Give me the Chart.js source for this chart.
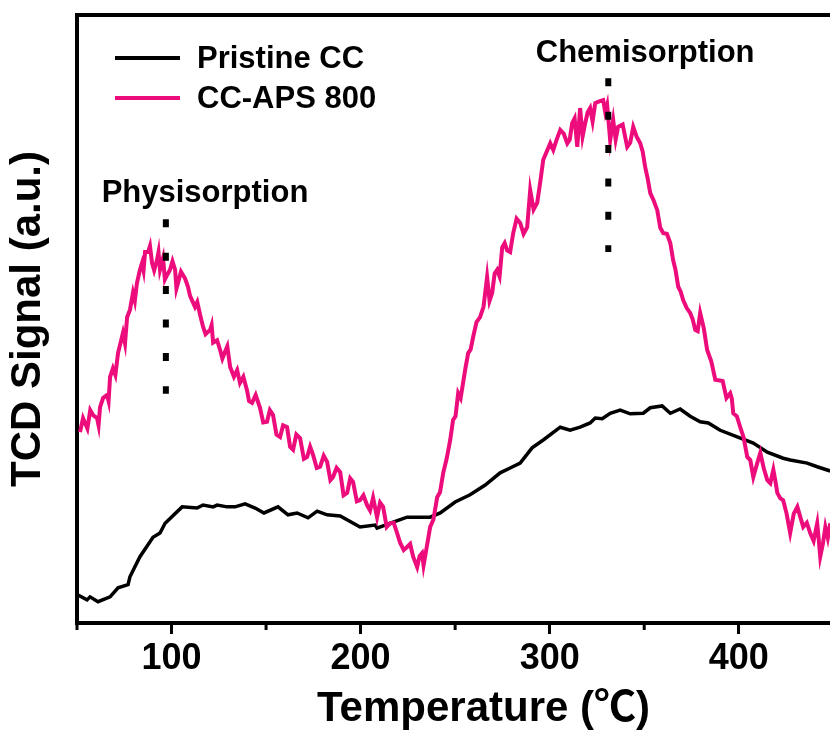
<!DOCTYPE html>
<html>
<head>
<meta charset="utf-8">
<script src="https://cdn.jsdelivr.net/npm/chart.js@4.4.1/dist/chart.umd.min.js"></script>
<style>
  html, body { margin: 0; padding: 0; background: #fff; overflow: hidden; }
  #wrap { width: 830px; height: 738px; overflow: hidden; position: relative; }
</style>
</head>
<body>
<div id="wrap"><canvas id="tpd" width="892" height="738"></canvas></div>
<script>
// TPD profiles, temperature in degC, signal in a.u.
const pristineT = [50.5, 55.3, 56.9, 61.1, 67.5, 71.7, 77.0, 78.0, 83.3, 90.2, 93.9, 96.6, 105.6, 113.5, 116.7, 122.0, 124.1, 129.4, 133.6, 138.9, 144.2, 148.9, 156.3, 161.6, 166.4, 172.2, 177.0, 182.3, 189.2, 199.7, 207.7, 208.7, 217.2, 224.6, 233.1, 236.8, 242.1, 250.0, 257.9, 265.9, 273.8, 279.1, 284.4, 290.7, 296.6, 305.6, 310.8, 316.1, 321.4, 324.1, 327.8, 332.0, 337.3, 342.6, 349.5, 353.2, 359.5, 363.8, 369.0, 374.3, 379.6, 383.9, 390.2, 399.2, 407.7, 415.1, 423.5, 427.2, 436.2, 441.5, 448.4];
const pristineS = [4.6, 3.8, 4.3, 3.5, 4.3, 5.8, 6.3, 7.6, 10.9, 14.1, 14.8, 16.4, 19.1, 18.9, 19.4, 19.1, 19.4, 19.1, 19.1, 19.6, 18.9, 18.1, 19.1, 17.8, 18.1, 17.3, 18.4, 17.8, 17.6, 15.8, 16.1, 15.6, 16.6, 17.4, 17.4, 17.4, 18.1, 19.9, 21.1, 22.7, 24.7, 25.5, 26.3, 28.8, 30.1, 32.2, 31.7, 32.2, 32.9, 33.7, 33.6, 34.5, 35.0, 34.4, 34.5, 35.4, 35.7, 34.5, 35.2, 34.0, 33.1, 32.9, 31.7, 30.6, 29.6, 28.1, 27.1, 26.8, 26.3, 25.7, 25.0];

const apsT = [51.6, 53.2, 55.5, 57.0, 58.5, 60.6, 61.4, 62.2, 63.8, 65.9, 66.7, 67.5, 69.0, 70.3, 71.7, 74.3, 75.4, 76.5, 78.0, 79.6, 80.6, 81.7, 83.3, 84.4, 85.2, 86.0, 87.6, 88.6, 89.7, 90.8, 92.3, 93.1, 93.9, 95.5, 96.5, 97.6, 99.2, 100.5, 101.9, 102.6, 103.4, 105.0, 107.1, 108.7, 109.8, 110.8, 112.4, 113.6, 115.1, 116.7, 118.0, 120.4, 121.2, 122.0, 124.1, 125.7, 126.9, 128.3, 129.5, 131.0, 133.0, 134.7, 136.2, 138.0, 139.9, 141.0, 142.6, 144.5, 146.8, 148.5, 150.5, 152.0, 153.7, 155.5, 157.4, 159.0, 161.1, 162.7, 164.3, 166.0, 168.0, 170.0, 171.7, 173.3, 174.9, 176.8, 178.6, 180.5, 182.3, 184.0, 185.4, 187.3, 189.2, 191.0, 192.9, 194.5, 196.0, 198.0, 199.7, 201.5, 203.4, 205.0, 206.6, 208.7, 210.3, 211.9, 213.8, 215.6, 217.5, 219.3, 220.9, 222.8, 224.6, 226.2, 227.8, 229.9, 231.2, 232.5, 233.3, 234.1, 236.8, 238.5, 240.5, 242.0, 243.7, 245.5, 247.4, 248.9, 250.2, 251.6, 252.9, 254.2, 255.5, 256.9, 258.2, 259.5, 261.3, 263.2, 265.0, 266.9, 268.2, 269.6, 270.9, 272.2, 273.5, 274.9, 276.2, 277.5, 279.1, 280.7, 282.5, 284.4, 286.2, 288.1, 289.7, 291.5, 293.4, 295.0, 296.6, 298.4, 300.3, 301.9, 303.7, 305.6, 307.4, 309.3, 310.6, 311.9, 313.2, 314.6, 316.1, 317.4, 318.8, 320.1, 321.4, 322.7, 324.1, 326.2, 328.3, 329.4, 330.4, 332.0, 333.6, 334.9, 336.2, 338.6, 341.0, 342.6, 344.2, 346.0, 347.9, 349.2, 350.5, 351.9, 353.2, 355.0, 356.9, 358.5, 360.1, 362.0, 363.8, 365.3, 366.6, 368.0, 369.3, 370.6, 372.5, 374.3, 375.6, 377.0, 378.3, 379.6, 381.5, 383.3, 385.5, 387.6, 391.5, 393.5, 395.5, 396.3, 397.1, 399.0, 400.8, 402.6, 404.5, 406.1, 407.7, 409.5, 411.4, 413.2, 415.1, 416.7, 418.3, 419.3, 420.4, 422.0, 423.5, 425.3, 427.2, 429.1, 431.0, 432.5, 434.1, 436.0, 437.8, 439.6, 441.5, 442.3, 443.1, 444.5, 445.8, 447.1, 448.4];
const apsS = [31.4, 33.7, 32.0, 35.0, 34.2, 33.7, 32.5, 35.5, 37.0, 37.5, 36.5, 40.5, 41.9, 40.8, 44.4, 47.7, 46.0, 50.3, 51.5, 54.3, 53.0, 55.9, 58.1, 59.2, 58.0, 61.0, 61.0, 62.0, 59.2, 58.0, 59.7, 61.0, 58.1, 60.0, 56.5, 57.2, 58.1, 59.5, 58.1, 55.0, 55.9, 57.8, 56.7, 55.3, 53.8, 53.1, 52.0, 52.8, 50.7, 48.7, 47.5, 48.2, 49.0, 46.1, 46.5, 44.9, 43.5, 44.6, 45.5, 42.1, 40.5, 41.6, 39.5, 40.5, 38.3, 36.5, 36.2, 37.5, 35.4, 33.0, 33.1, 35.0, 34.2, 31.0, 30.6, 32.5, 32.2, 29.0, 28.5, 31.0, 30.4, 27.0, 27.3, 29.0, 27.6, 25.5, 25.7, 27.5, 26.5, 23.5, 24.0, 25.5, 24.8, 21.0, 21.4, 23.8, 23.2, 20.0, 20.2, 21.0, 19.4, 18.5, 20.6, 17.4, 19.8, 19.1, 15.8, 16.4, 16.5, 14.8, 13.2, 12.0, 12.5, 13.0, 10.9, 9.2, 11.0, 11.5, 9.5, 10.9, 15.8, 17.0, 20.7, 21.5, 24.7, 27.0, 30.1, 33.4, 34.0, 37.8, 37.0, 39.5, 42.0, 44.4, 45.0, 47.0, 49.5, 50.3, 52.0, 56.9, 53.0, 54.3, 57.5, 58.1, 57.0, 61.8, 62.5, 61.3, 61.0, 64.1, 66.5, 65.8, 64.0, 65.1, 71.2, 68.0, 69.1, 72.5, 76.2, 77.5, 78.9, 77.8, 79.5, 81.1, 80.5, 78.9, 79.5, 82.2, 83.0, 78.3, 84.7, 80.0, 82.2, 84.0, 84.7, 82.5, 85.5, 85.8, 86.0, 84.0, 85.2, 79.4, 82.7, 79.5, 81.6, 82.0, 78.3, 79.0, 81.6, 80.0, 78.9, 77.5, 75.0, 73.0, 70.7, 69.5, 67.9, 65.0, 64.1, 64.0, 62.5, 59.7, 58.0, 55.3, 54.5, 53.1, 51.8, 51.0, 50.0, 48.2, 48.0, 51.0, 48.5, 44.9, 43.0, 40.0, 39.8, 37.0, 37.8, 37.0, 34.5, 34.0, 32.2, 30.5, 27.3, 26.8, 24.0, 26.0, 28.0, 25.5, 23.5, 23.0, 25.2, 23.5, 21.4, 20.5, 20.2, 18.0, 14.8, 18.0, 19.1, 17.5, 15.8, 16.5, 14.8, 13.5, 16.4, 13.8, 10.9, 13.0, 15.8, 14.0, 16.4];

const majorTicks = [100, 200, 300, 400];
const minorTicks = [50, 150, 250, 350, 450];

// peak markers: label, temperature, dotted line from / to (signal units)
const peakNames = ['Physisorption', 'Chemisorption'];
const peakTemps = [97, 331];
const peakLineTop = [66.4, 89.6];
const peakLineBottom = [37.7, 61.0];
const peakLabelX = [117.7, 350.5];
const peakLabelY = [69.2, 92.3];

const FONT = "'Liberation Sans', Arial, 'Noto Sans CJK SC', sans-serif";
const PINK = '#ec0c7c';

function toPoints(xs, ys) {
    return xs.map((x, i) => ({ x: x, y: ys[i] }));
}

const extras = {
    id: 'extras',
    afterDatasetsDraw(chart) {
        const ctx = chart.ctx;
        const xs = chart.scales.x, ys = chart.scales.y;
        const area = chart.chartArea;
        ctx.save();

        // top frame line
        ctx.strokeStyle = '#000';
        ctx.lineWidth = 4;
        ctx.beginPath();
        ctx.moveTo(area.left - 2, area.top);
        ctx.lineTo(area.right, area.top);
        ctx.stroke();

        // minor ticks
        ctx.lineWidth = 3;
        minorTicks.forEach(v => {
            const px = xs.getPixelForValue(v);
            ctx.beginPath();
            ctx.moveTo(px, area.bottom);
            ctx.lineTo(px, area.bottom + 7);
            ctx.stroke();
        });

        // dotted peak markers
        ctx.lineWidth = 6;
        ctx.setLineDash([8, 25.4]);
        peakTemps.forEach((t, i) => {
            const px = xs.getPixelForValue(t);
            ctx.beginPath();
            ctx.moveTo(px, ys.getPixelForValue(peakLineTop[i]));
            ctx.lineTo(px, ys.getPixelForValue(peakLineBottom[i]));
            ctx.stroke();
        });
        ctx.setLineDash([]);

        ctx.fillStyle = '#000';
        ctx.font = 'bold 31px ' + FONT;
        ctx.textAlign = 'center';
        ctx.textBaseline = 'alphabetic';
        peakNames.forEach((name, i) => {
            ctx.fillText(name, xs.getPixelForValue(peakLabelX[i]), ys.getPixelForValue(peakLabelY[i]));
        });

        // legend
        ctx.textAlign = 'left';
        ctx.textBaseline = 'middle';
        chart.data.datasets.forEach((ds, i) => {
            const y = 58 + i * 40;
            ctx.strokeStyle = ds.borderColor;
            ctx.lineWidth = 4;
            ctx.beginPath();
            ctx.moveTo(115, y);
            ctx.lineTo(180, y);
            ctx.stroke();
            ctx.fillText(ds.label, 197, y + 1);
        });
        ctx.restore();
    }
};

new Chart(document.getElementById('tpd'), {
    type: 'line',
    data: {
        datasets: [
            {
                label: 'Pristine CC',
                data: toPoints(pristineT, pristineS),
                borderColor: '#000',
                borderWidth: 3.5,
                pointRadius: 0,
                tension: 0,
                order: 1
            },
            {
                label: 'CC-APS 800',
                data: toPoints(apsT, apsS),
                borderColor: PINK,
                borderWidth: 4,
                pointRadius: 0,
                tension: 0,
                order: 0
            }
        ]
    },
    options: {
        responsive: false,
        animation: false,
        events: [],
        layout: { padding: { top: 15, right: 2, left: 0, bottom: 0 } },
        plugins: {
            legend: { display: false },
            tooltip: { enabled: false }
        },
        scales: {
            x: {
                type: 'linear',
                min: 50,
                max: 480,
                afterBuildTicks: s => { s.ticks = majorTicks.map(v => ({ value: v })); },
                afterFit: s => { s.height = 115; },
                grid: { drawOnChartArea: false, color: '#000', tickLength: 11, tickWidth: 3 },
                border: { color: '#000', width: 4 },
                ticks: {
                    color: '#000',
                    padding: 3,
                    maxRotation: 0,
                    font: { family: FONT, size: 36, weight: 'bold' }
                },
                title: {
                    display: true,
                    text: 'Temperature (℃)',
                    color: '#000',
                    padding: { top: 0, bottom: 3 },
                    font: { family: FONT, size: 42, weight: 'bold' }
                }
            },
            y: {
                min: 0,
                max: 100,
                afterFit: s => { s.width = 77; },
                grid: { display: false },
                border: { color: '#000', width: 4 },
                ticks: { display: false },
                title: {
                    display: true,
                    text: 'TCD Signal (a.u.)',
                    color: '#000',
                    padding: { top: 3, bottom: 0 },
                    font: { family: FONT, size: 42, weight: 'bold' }
                }
            }
        }
    },
    plugins: [extras]
});
</script>
</body>
</html>
